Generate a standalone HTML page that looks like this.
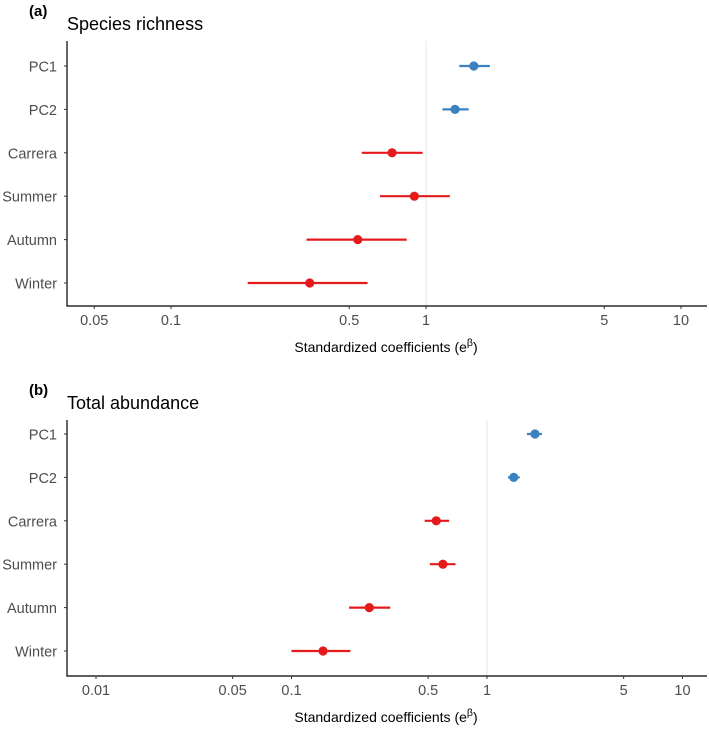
<!DOCTYPE html>
<html><head><meta charset="utf-8"><style>
html,body{margin:0;padding:0;background:#fff;width:709px;height:734px;overflow:hidden}
svg{font-family:"Liberation Sans",Arial,sans-serif}
</style></head><body>
<svg id="chart" width="709" height="734" viewBox="0 0 709 734" xmlns="http://www.w3.org/2000/svg"></svg>
<script>
const categories = ["PC1","PC2","Carrera","Summer","Autumn","Winter"];
const colorsA = ["blue","blue","red","red","red","red"];
const richEst = [1.54,1.30,0.736,0.90,0.54,0.35];
const richLo  = [1.35,1.16,0.56,0.66,0.34,0.20];
const richHi  = [1.78,1.47,0.97,1.24,0.84,0.59];
const abunEst = [1.76,1.37,0.55,0.595,0.25,0.145];
const abunLo  = [1.60,1.28,0.48,0.51,0.197,0.10];
const abunHi  = [1.91,1.47,0.64,0.69,0.32,0.20];
const ticksA = [0.05,0.1,0.5,1,5,10];
const tickLabelsA = ["0.05","0.1","0.5","1","5","10"];
const ticksB = [0.01,0.05,0.1,0.5,1,5,10];
const tickLabelsB = ["0.01","0.05","0.1","0.5","1","5","10"];

const NS="http://www.w3.org/2000/svg";
const svg=document.getElementById('chart');
function mk(tag,attrs,parent){const e=document.createElementNS(NS,tag);for(const k in attrs)e.setAttribute(k,attrs[k]);(parent||svg).appendChild(e);return e;}
const COL={blue:"#3b80c0",red:"#e41a1c"};

function panel(p){
  const g=mk('g',{});
  
  
  const x=v=>p.x1+Math.log10(v)*p.dec;
  const y=i=>p.yFirst+i*p.step;
  const lab=mk('text',{x:29,y:p.top-25,'font-size':15,'font-weight':'bold',fill:'#000'},g);lab.textContent=p.label;
  
  
  const t=mk('text',{x:67,y:p.top-11,'font-size':18,fill:'#000'},g);t.textContent=p.title;
  
  
  const ref=mk('line',{x1:x(1),x2:x(1),y1:p.top,y2:p.bottom,stroke:'#e6e6e6','stroke-width':1},g);
  
  
  const ya=mk('line',{x1:67,x2:67,y1:p.top,y2:p.bottom+0.5,stroke:'#000','stroke-width':1.2},g);
  
  
  const xa=mk('line',{x1:66.4,x2:707,y1:p.bottom,y2:p.bottom,stroke:'#000','stroke-width':1.2},g);
  
  
  p.ticks.forEach((v,i)=>{
    mk('line',{x1:x(v),x2:x(v),y1:p.bottom,y2:p.bottom+3,stroke:'#333','stroke-width':1},g);
    const tl=mk('text',{x:x(v),y:p.bottom+19,'font-size':14.5,fill:'#4d4d4d','text-anchor':'middle'},g);
    tl.textContent=p.tickLabels[i];
    
    
  });
  const xt=mk('text',{x:386,y:p.bottom+46,'font-size':14,fill:'#000','text-anchor':'middle'},g);
  xt.innerHTML='Standardized coefficients (e<tspan dy="-6" font-size="10.5">β</tspan><tspan dy="6">)</tspan>';
  
  
  categories.forEach((c,i)=>{
    mk('line',{x1:64,x2:67,y1:y(i),y2:y(i),stroke:'#333','stroke-width':1},g);
    const cl=mk('text',{x:57,y:y(i)+5.5,'font-size':14.5,fill:'#4d4d4d','text-anchor':'end'},g);
    cl.textContent=c;
    
    
    const col=COL[colorsA[i]];
    const ci=mk('line',{x1:x(p.lo[i]),x2:x(p.hi[i]),y1:y(i),y2:y(i),stroke:col,'stroke-width':2.2},g);
    
    
    const pt=mk('circle',{cx:x(p.est[i]),cy:y(i),r:4.6,fill:col},g);
    
    
  });
}
panel({name:'panel-species-richness',label:'(a)',title:'Species richness',top:41,bottom:306,yFirst:66,step:43.4,x1:426,dec:255,ticks:ticksA,tickLabels:tickLabelsA,est:richEst,lo:richLo,hi:richHi});
panel({name:'panel-total-abundance',label:'(b)',title:'Total abundance',top:420,bottom:676,yFirst:434,step:43.4,x1:487,dec:195.5,ticks:ticksB,tickLabels:tickLabelsB,est:abunEst,lo:abunLo,hi:abunHi});
</script>
</body></html>
